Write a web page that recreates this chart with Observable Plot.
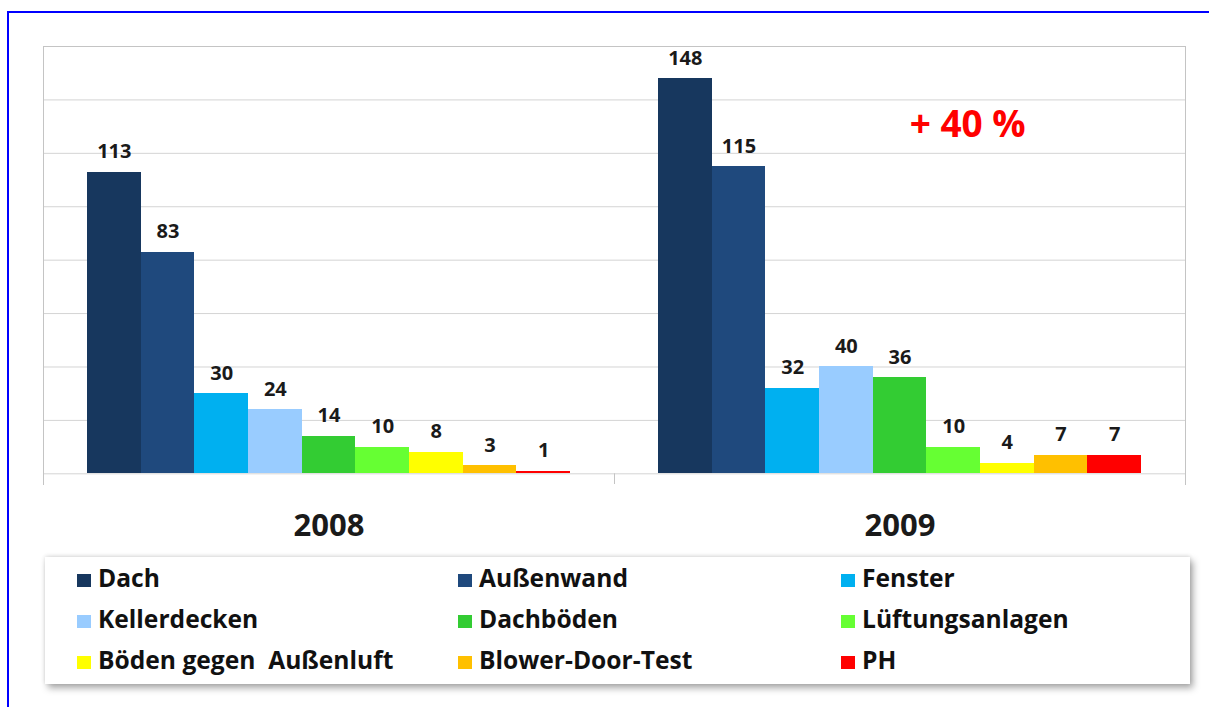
<!DOCTYPE html>
<html>
<head>
<meta charset="utf-8">
<script src="https://cdn.jsdelivr.net/npm/d3@7"></script>
<script src="https://cdn.jsdelivr.net/npm/@observablehq/plot@0.6"></script>
<style>
  html, body { margin: 0; padding: 0; background: #fff; overflow: hidden; }
  body { width: 1209px; height: 707px; position: relative; font-family: "Open Sans", sans-serif; }
  #frame { position: absolute; left: 7px; top: 11px; width: 1400px; height: 900px;
           border-left: 2px solid #0000ff; border-top: 2px solid #0000ff; pointer-events: none; }
  #chart svg { display: block; }
  #legend { position: relative; margin-left: 45px; margin-top: 7px; width: 1145px; height: 127px;
            background: #fff; box-shadow: 3px 4px 7px rgba(0,0,0,0.35), 0 -1px 4px rgba(0,0,0,0.12); }
  .item { position: absolute; font-size: 24.6px; line-height: 24px; font-weight: bold; color: #111;
          white-space: pre; }
  .sw { display: inline-block; width: 14px; height: 13px; margin-right: 7px; vertical-align: baseline; }
</style>
</head>
<body>
<div id="frame"></div>
<div id="chart"></div>
<div id="legend"></div>
<script>
const years = ["2008", "2009"];
const categories = ["Dach", "Außenwand", "Fenster", "Kellerdecken", "Dachböden",
  "Lüftungsanlagen", "Böden gegen  Außenluft", "Blower-Door-Test", "PH"];
const colors = ["#17375e", "#1f497d", "#00b0f0", "#99ccff", "#33cc33",
  "#66ff33", "#ffff00", "#ffc000", "#ff0000"];
const values2008 = [113, 83, 30, 24, 14, 10, 8, 3, 1];
const values2009 = [148, 115, 32, 40, 36, 10, 4, 7, 7];
const yTicks = [0, 20, 40, 60, 80, 100, 120, 140, 160];
const annotation = [{year: "2009", category: "Lüftungsanlagen", value: 126, label: "+ 40 %"}];

const rows = [];
categories.forEach((c, i) => {
  rows.push({year: "2008", category: c, value: values2008[i]});
  rows.push({year: "2009", category: c, value: values2009[i]});
});

const chart = Plot.plot({
  width: 1209,
  height: 550,
  marginLeft: 43,
  marginRight: 24,
  marginTop: 46,
  marginBottom: 66,
  style: {fontFamily: "Open Sans", background: "transparent"},
  fx: {domain: years, padding: 0, label: null},
  x: {domain: categories, paddingInner: 0, paddingOuter: 0.82, round: false, axis: null},
  y: {domain: [-4, 160], axis: null},
  color: {domain: categories, range: colors},
  marks: [
    Plot.gridY(yTicks, {stroke: "#d4d4d4", strokeOpacity: 1}),
    Plot.frame({anchor: "top", stroke: "#c4c4c4"}),
    Plot.frame({anchor: "left", stroke: "#c4c4c4", facetAnchor: "left"}),
    Plot.frame({anchor: "right", stroke: "#c4c4c4", facetAnchor: "right"}),
    Plot.barY(rows, {fx: "year", x: "category", y: "value", fill: "category", inset: 0,
      shapeRendering: "crispEdges"}),
    Plot.text(rows, {fx: "year", x: "category", y: "value", text: d => String(d.value),
      lineAnchor: "bottom", dy: -14, fontSize: 20, fontWeight: "bold", fill: "#1a1a1a"}),
    Plot.text(annotation, {fx: "year", x: "category", y: "value", text: "label",
      lineAnchor: "bottom", dx: 14, fontSize: 37, fontWeight: "bold", fill: "#ff0000"}),
    Plot.axisFx({anchor: "bottom", tickSize: 0, tickPadding: 29, fontSize: 31,
      fontWeight: "bold", fill: "#1a1a1a", label: null})
  ]
});
document.getElementById("chart").appendChild(chart);

// middle tick mark below the baseline at the boundary between the two year groups
const fxs = chart.scale("fx");
const ys = chart.scale("y");
d3.select(chart).append("line")
  .attr("x1", fxs.apply("2009") + 0.5).attr("x2", fxs.apply("2009") + 0.5)
  .attr("y1", ys.apply(0)).attr("y2", ys.apply(-4))
  .attr("stroke", "#c4c4c4");

// legend
const legend = document.getElementById("legend");
const colLeft = [32, 413, 796];
categories.forEach((c, i) => {
  const col = i % 3, row = Math.floor(i / 3);
  const el = document.createElement("div");
  el.className = "item";
  el.style.left = colLeft[col] + "px";
  el.style.top = (9 + row * 41) + "px";
  const sw = document.createElement("span");
  sw.className = "sw";
  sw.style.background = colors[i];
  el.appendChild(sw);
  el.appendChild(document.createTextNode(c));
  legend.appendChild(el);
});
</script>
</body>
</html>
